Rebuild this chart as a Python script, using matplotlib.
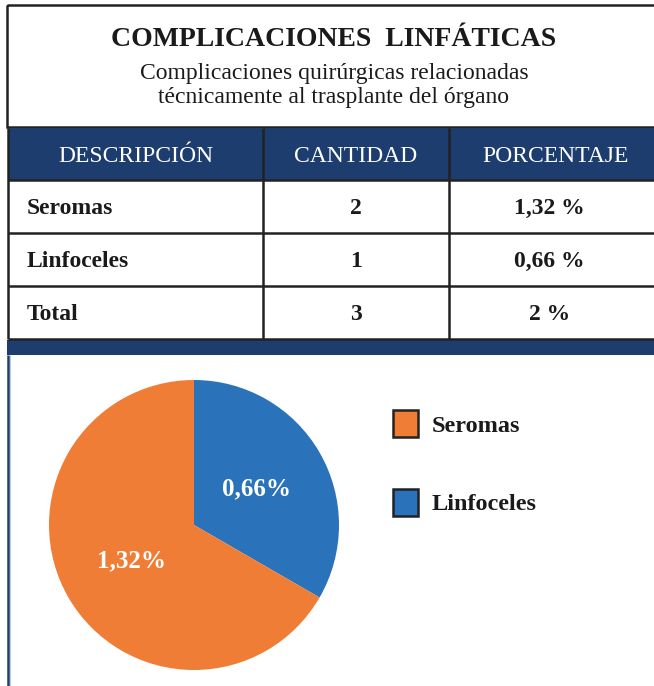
import matplotlib
matplotlib.use("Agg")
import matplotlib.pyplot as plt
from matplotlib.patches import Rectangle

# ---- data ----
title = "COMPLICACIONES  LINFÁTICAS"
subtitle_lines = ["Complicaciones quirúrgicas relacionadas", "técnicamente al trasplante del órgano"]
headers = ["DESCRIPCIÓN", "CANTIDAD", "PORCENTAJE"]
row_names = ["Seromas", "Linfoceles", "Total"]
counts = [2, 1, 3]
percents = ["1,32 %", "0,66 %", "2 %"]
pie_categories = ["Linfoceles", "Seromas"]
pie_values = [0.66, 1.32]
pie_labels = ["0,66%", "1,32%"]
legend_categories = ["Seromas", "Linfoceles"]

NAVY = "#1c3d6e"
ORANGE = "#f07d35"
BLUE = "#2a72b9"
LINE = "#222222"
TXT = "#1a1a1a"
colors = {"Seromas": ORANGE, "Linfoceles": BLUE}

plt.rcParams['font.family'] = ['Liberation Serif', 'DejaVu Serif']

W, H = 654, 686
fig = plt.figure(figsize=(W / 100, H / 100), dpi=100)
ax = fig.add_axes([0, 0, 1, 1])
ax.set_xlim(0, W)
ax.set_ylim(H, 0)
ax.axis("off")

# title box
ax.add_patch(Rectangle((7, 5), 720, 122, fill=False, edgecolor=LINE, lw=1.8))
ax.text(334, 40, title, ha="center", va="center", fontsize=20, fontweight="bold", color=TXT)
for k, line in enumerate(subtitle_lines):
    ax.text(334, 74 + k * 24, line, ha="center", va="center", fontsize=17, color=TXT)

# table
col_edges = [8, 263, 449, 662]
row_edges = [128, 180, 233, 286, 339]
ax.add_patch(Rectangle((8, row_edges[0]), 700, row_edges[1] - row_edges[0], facecolor=NAVY, edgecolor="none"))
for i, h in enumerate(headers):
    cx = (col_edges[i] + col_edges[i + 1]) / 2
    ax.text(cx, 156, h, ha="center", va="center", fontsize=17, color="white")
for j in range(len(row_names)):
    y0, y1 = row_edges[j + 1], row_edges[j + 2]
    cy = (y0 + y1) / 2 + 2
    ax.text(27, cy, row_names[j], ha="left", va="center", fontsize=17, fontweight="bold", color=TXT)
    ax.text((col_edges[1] + col_edges[2]) / 2, cy, str(counts[j]), ha="center", va="center",
            fontsize=17, fontweight="bold", color=TXT)
    ax.text((col_edges[2] + col_edges[3]) / 2 - 6, cy, percents[j], ha="center", va="center",
            fontsize=17, fontweight="bold", color=TXT)
# grid lines
for x in col_edges[:3]:
    ax.plot([x, x], [row_edges[0], row_edges[-1]], color=LINE, lw=1.8, solid_capstyle="butt")
for y in row_edges[1:]:
    ax.plot([8, 700], [y, y], color=LINE, lw=1.8, solid_capstyle="butt")

# navy bar
ax.add_patch(Rectangle((7, 340), 700, 15, facecolor=NAVY, edgecolor="none"))
# lower left border
ax.plot([8, 8], [355, 686], color=NAVY, lw=1.8, solid_capstyle="butt")
ax.plot([9.6, 9.6], [355, 686], color="#a9c1e0", lw=0.6, solid_capstyle="butt")

# legend boxes
for k, name in enumerate(legend_categories):
    y = 410 + k * 79
    ax.add_patch(Rectangle((393, y), 25, 27, facecolor=colors[name], edgecolor=LINE, lw=1.8))
    ax.text(432, y + 16, name, ha="left", va="center", fontsize=17.5, fontweight="bold", color=TXT)

# pie
cx, cy, r = 194, 525, 145
pax = fig.add_axes([(cx - r) / W, (H - cy - r) / H, 2 * r / W, 2 * r / H])
wedges, texts = pax.pie(pie_values, colors=[colors[c] for c in pie_categories], startangle=90,
                        counterclock=False, labels=pie_labels, labeldistance=0.5,
                        textprops=dict(color="white", fontsize=18, fontweight="bold"))
for t in texts:
    t.set_ha("center")
    t.set_va("center")
pax.set_xlim(-1, 1)
pax.set_ylim(-1, 1)
pax.set_aspect("equal")
pax.axis("off")

fig.savefig("out.png", dpi=100)
